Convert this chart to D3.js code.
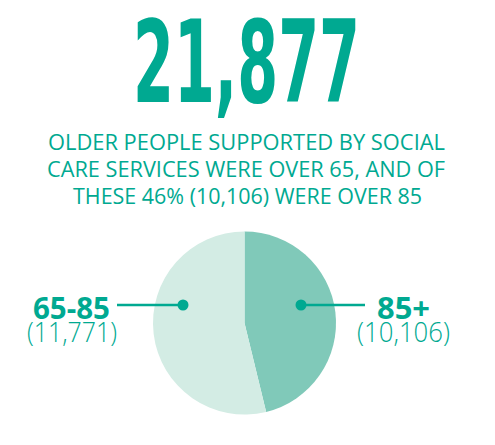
<!DOCTYPE html>
<html>
<head>
<meta charset="utf-8">
<script src="https://cdn.jsdelivr.net/npm/d3@7"></script>
<style>
  body { margin: 0; background: #fff; }
  svg { display: block; }
</style>
</head>
<body>
<div id="chart"></div>
<script>
// headline figure + subtitle
var headline = "21,877";
var subtitle = [
    "OLDER PEOPLE SUPPORTED BY SOCIAL",
    "CARE SERVICES WERE OVER 65, AND OF",
    "THESE 46% (10,106) WERE OVER 85"
];

// pie data (clockwise from 12 o'clock)
var groups = ["85+", "65-85"];
var counts = [10106, 11771];
var countLabels = ["(10,106)", "(11,771)"];
var sliceColors = ["#80c9b9", "#d3ece4"];

var teal = "#00a991";
var width = 495, height = 445;

var svg = d3.select("#chart")
    .append("svg")
    .attr("width", width)
    .attr("height", height);

// big number
svg.append("text")
    .attr("x", 133)
    .attr("y", 102)
    .attr("font-family", "'Liberation Sans Narrow', 'DejaVu Sans Condensed', sans-serif")
    .attr("font-weight", 700)
    .attr("font-size", 114)
    .attr("fill", teal)
    .attr("textLength", 227)
    .attr("lengthAdjust", "spacingAndGlyphs")
    .text(headline);

// subtitle lines
var subX = [[48, 445], [47, 445], [73, 422]];
var subY = [150, 177, 204];
for (var i = 0; i < subtitle.length; i++) {
    svg.append("text")
        .attr("x", subX[i][0])
        .attr("y", subY[i])
        .attr("font-family", "'Open Sans', 'Noto Sans', sans-serif")
        .attr("font-size", 22)
        .attr("fill", teal)
        .attr("textLength", subX[i][1] - subX[i][0])
        .attr("lengthAdjust", "spacingAndGlyphs")
        .text(subtitle[i]);
}

// pie
var cx = 244.5, cy = 323, r = 91.5;
var pie = d3.pie().sort(null).value(function(d) { return d; });
var arc = d3.arc().innerRadius(0).outerRadius(r);
var arcs = pie(counts);

var g = svg.append("g").attr("transform", "translate(" + cx + "," + cy + ")");
g.selectAll("path")
    .data(arcs)
    .enter()
    .append("path")
    .attr("d", arc)
    .attr("fill", function(d, i) { return sliceColors[i]; });

// leader lines + labels
var dotY = 305;
var leaders = [
    { dot: 301, end: 365, lx: 377, cx2: 357, anchor: "start" },  // 85+
    { dot: 183, end: 117, lx: 33,  cx2: 27,  anchor: "start" }   // 65-85
];
var nameW = [53, 77];
var countW = [93, 90];

for (var j = 0; j < groups.length; j++) {
    var L = leaders[j];
    svg.append("line")
        .attr("x1", L.dot).attr("x2", L.end)
        .attr("y1", dotY).attr("y2", dotY)
        .attr("stroke", teal)
        .attr("stroke-width", 2.5);
    svg.append("circle")
        .attr("cx", L.dot).attr("cy", dotY)
        .attr("r", 5.5)
        .attr("fill", teal);
    svg.append("text")
        .attr("x", L.lx).attr("y", 319)
        .attr("font-family", "'Open Sans', 'Noto Sans', sans-serif")
        .attr("font-weight", 700)
        .attr("font-size", 30)
        .attr("fill", teal)
        .attr("textLength", nameW[j])
        .attr("lengthAdjust", "spacingAndGlyphs")
        .text(groups[j]);
    svg.append("text")
        .attr("x", L.cx2).attr("y", 342)
        .attr("font-family", "'Open Sans', 'Noto Sans', sans-serif")
        .attr("font-weight", 300)
        .attr("font-size", 27)
        .attr("fill", teal)
        .attr("textLength", countW[j])
        .attr("lengthAdjust", "spacingAndGlyphs")
        .text(countLabels[j]);
}
</script>
</body>
</html>
